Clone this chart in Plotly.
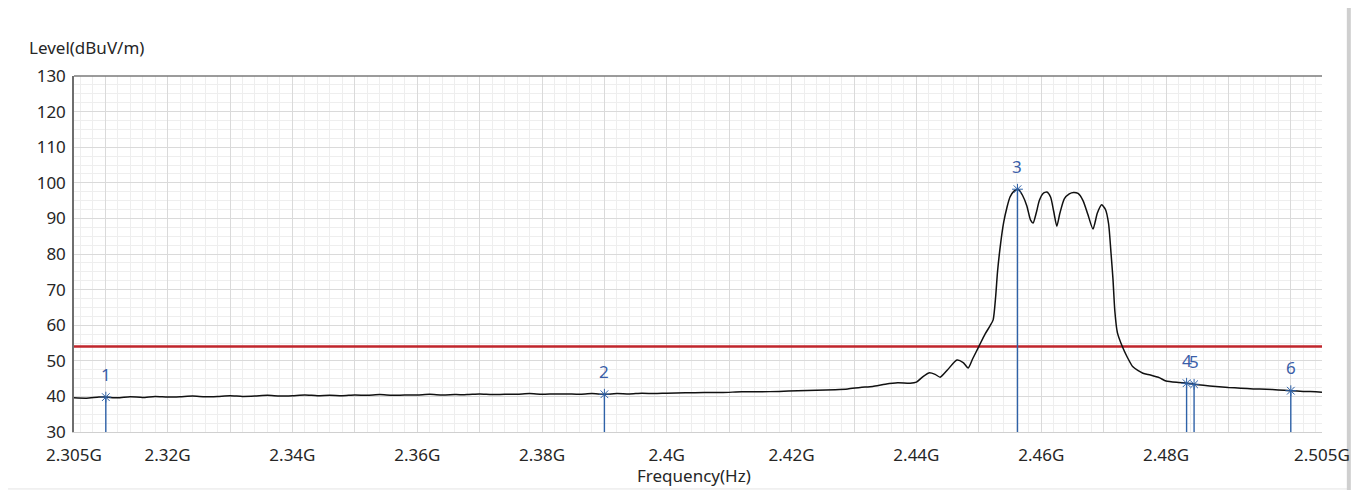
import plotly.graph_objects as go

# ---- data (frequency in GHz, level in dBuV/m) ----
freq_ghz = [
    2.305, 2.307, 2.309, 2.3101, 2.312, 2.314, 2.316, 2.318, 2.320, 2.322,
    2.324, 2.326, 2.328, 2.330, 2.332, 2.334, 2.336, 2.338, 2.340, 2.342,
    2.344, 2.346, 2.348, 2.350, 2.352, 2.354, 2.356, 2.358, 2.360, 2.362,
    2.364, 2.366, 2.368, 2.370, 2.372, 2.374, 2.376, 2.378, 2.380, 2.382,
    2.384, 2.386, 2.388, 2.390, 2.392, 2.394, 2.396, 2.398, 2.400, 2.403,
    2.406, 2.409, 2.412, 2.415, 2.418, 2.421, 2.424, 2.427, 2.429, 2.431,
    2.433, 2.435, 2.437, 2.439, 2.440, 2.441, 2.442, 2.443, 2.4438, 2.445,
    2.4465, 2.4475, 2.4483, 2.449, 2.450, 2.451, 2.4518, 2.4523, 2.4527, 2.453,
    2.4535, 2.454, 2.4545, 2.455, 2.4556, 2.4563, 2.457, 2.4577, 2.4583, 2.4587,
    2.4592, 2.4597, 2.4603, 2.4609, 2.4615, 2.462, 2.4625, 2.463, 2.4637, 2.4645,
    2.4652, 2.4659, 2.4667, 2.4675, 2.4683, 2.469, 2.4697, 2.4703, 2.4708, 2.4712,
    2.4715, 2.4718, 2.4722, 2.473, 2.4738, 2.4747, 2.4763, 2.4775, 2.479, 2.480,
    2.482, 2.4835, 2.4845, 2.486, 2.488, 2.490, 2.492, 2.494, 2.496, 2.498,
    2.500, 2.502, 2.504, 2.505,
]
level_dbuv = [
    39.6, 39.5, 39.8, 39.8, 39.6, 39.9, 39.7, 40.0, 39.8, 39.9,
    40.1, 39.9, 40.0, 40.2, 40.0, 40.1, 40.3, 40.1, 40.2, 40.4,
    40.2, 40.3, 40.2, 40.4, 40.3, 40.5, 40.3, 40.4, 40.4, 40.6,
    40.4, 40.5, 40.5, 40.7, 40.5, 40.6, 40.6, 40.8, 40.6, 40.7,
    40.7, 40.6, 40.8, 40.6, 40.8, 40.7, 40.9, 40.8, 40.9, 41.0,
    41.1, 41.1, 41.3, 41.3, 41.4, 41.6, 41.7, 41.9, 42.1, 42.5,
    42.8, 43.4, 43.8, 43.7, 44.0, 45.5, 46.6, 46.2, 45.4, 47.5,
    50.2, 49.5, 48.0, 50.5, 54.0, 57.5, 59.8, 61.5, 68.0, 75.0,
    83.0, 89.0, 93.0, 96.0, 97.6, 98.2, 96.5, 93.5, 89.5, 88.7,
    91.5, 95.0, 97.0, 97.4, 96.0, 92.0, 87.8, 91.5, 95.5, 96.9,
    97.3, 97.0, 95.0, 91.0, 87.0, 91.5, 93.8, 92.5, 88.5, 80.0,
    73.0, 64.0, 58.0, 54.0, 51.0, 48.3, 46.5, 46.0, 45.2, 44.3,
    43.9, 43.7, 43.4, 43.1, 42.8, 42.5, 42.3, 42.1, 42.0, 41.8,
    41.6, 41.4, 41.3, 41.2,
]

marker_ids = ["1", "2", "3", "4", "5", "6"]
marker_freq = [2.3101, 2.3900, 2.4562, 2.4833, 2.4845, 2.5000]
marker_level = [39.8, 40.6, 98.2, 43.7, 43.4, 41.6]

limit_level = 54.0

x_range = [2.305, 2.505]
y_range = [30, 130]
x_tickvals = [2.305, 2.31, 2.32, 2.33, 2.34, 2.35, 2.36, 2.37, 2.38, 2.39, 2.40,
              2.41, 2.42, 2.43, 2.44, 2.45, 2.46, 2.47, 2.48, 2.49, 2.50, 2.505]
x_ticktext = ["2.305G", "", "2.32G", "", "2.34G", "", "2.36G", "", "2.38G", "", "2.4G",
              "", "2.42G", "", "2.44G", "", "2.46G", "", "2.48G", "", "", "2.505G"]
y_tickvals = [30, 40, 50, 60, 70, 80, 90, 100, 110, 120, 130]

FONT = "Noto Sans"
BLUE = "#2f62a8"
LABEL_BLUE = "#3a5ea8"
TEXT = "#262626"

fig = go.Figure()

# limit line
fig.add_trace(go.Scatter(
    x=x_range, y=[limit_level, limit_level], mode="lines",
    line=dict(color="#c0262c", width=2.5), hoverinfo="skip", showlegend=False))

# marker vertical lines
for f, v in zip(marker_freq, marker_level):
    fig.add_trace(go.Scatter(
        x=[f, f], y=[y_range[0], v], mode="lines",
        line=dict(color=BLUE, width=1.4), hoverinfo="skip", showlegend=False))

# measurement curve
fig.add_trace(go.Scatter(
    x=freq_ghz, y=level_dbuv, mode="lines", line_shape="spline",
    line=dict(color="#111111", width=1.5, smoothing=0.6), showlegend=False))

# marker stars
fig.add_trace(go.Scatter(
    x=marker_freq, y=marker_level, mode="markers",
    marker=dict(symbol="asterisk-open", size=9, color=BLUE,
                line=dict(color=BLUE, width=1)),
    showlegend=False))

annotations = []
for mid, f, v in zip(marker_ids, marker_freq, marker_level):
    annotations.append(dict(
        x=f, y=v, xref="x", yref="y", text=mid, showarrow=False,
        yshift=23, font=dict(family=FONT, size=17, color=LABEL_BLUE)))

annotations.append(dict(
    x=-0.038, y=1.079, xref="paper", yref="paper", text="Level(dBuV/m)",
    showarrow=False, xanchor="left", yanchor="middle",
    font=dict(family=FONT, size=17, color=TEXT)))
annotations.append(dict(
    x=0.497, y=-0.121, xref="paper", yref="paper", text="Frequency(Hz)",
    showarrow=False, xanchor="center", yanchor="middle",
    font=dict(family=FONT, size=17, color=TEXT)))

# the page has an 8px body margin, so size/margins are compensated
fig.update_layout(
    width=1353, height=482,
    margin=dict(l=66, r=39, t=68, b=58),
    paper_bgcolor="white", plot_bgcolor="white",
    font=dict(family=FONT, size=16, color=TEXT),
    annotations=annotations,
    shapes=[
        dict(type="rect", xref="paper", yref="paper",
             x0=-0.054, x1=1.0215, y0=-0.16, y1=1.199,
             line=dict(color="#e4e4e4", width=1), layer="below"),
        dict(type="line", xref="paper", yref="paper",
             x0=1.0215, x1=1.0215, y0=-0.2, y1=1.25,
             line=dict(color="#cfcfcf", width=4), layer="below"),
        dict(type="line", xref="paper", yref="paper",
             x0=0, x1=1, y0=1, y1=1,
             line=dict(color="#7a7a7a", width=1.5)),
    ],
)

fig.update_xaxes(
    range=x_range, tickmode="array", tickvals=x_tickvals, ticktext=x_ticktext,
    showgrid=True, gridcolor="#dadada", gridwidth=1,
    minor=dict(tick0=2.30, dtick=0.002, showgrid=True, gridcolor="#eeeeee", gridwidth=1),
    showline=True, linecolor="#d0d0d0", linewidth=1, mirror=False,
    ticks="", zeroline=False, ticklabelstandoff=8,
    tickfont=dict(family=FONT, size=17, color=TEXT),
)
fig.update_yaxes(
    range=y_range, tickmode="array", tickvals=y_tickvals,
    showgrid=True, gridcolor="#dadada", gridwidth=1,
    minor=dict(tick0=30, dtick=2.5, showgrid=True, gridcolor="#eeeeee", gridwidth=1),
    showline=True, linecolor="#6e6e6e", linewidth=1.5, mirror=False,
    ticks="", zeroline=False, ticklabelstandoff=3,
    tickfont=dict(family=FONT, size=17, color=TEXT),
)

fig.write_html("out.html")
